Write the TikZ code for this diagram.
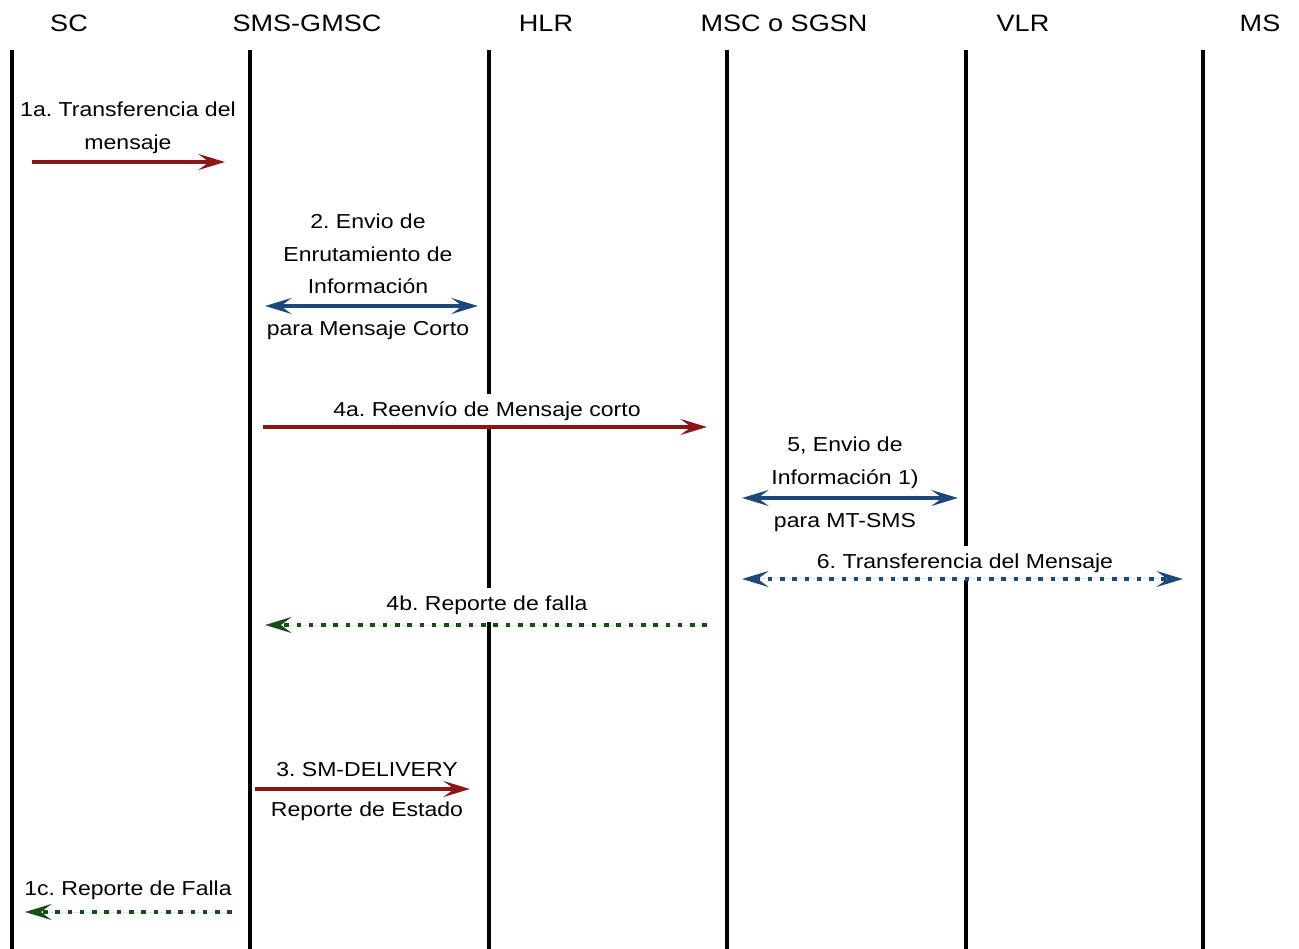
\documentclass[tikz,border=0pt]{standalone}
\usepackage{fontspec}
\setmainfont{Liberation Sans}[FakeStretch=1.14]
\frenchspacing
\usetikzlibrary{arrows.meta}
\definecolor{msgred}{RGB}{140,22,22}
\definecolor{msgblue}{RGB}{28,72,122}
\definecolor{msggreen}{RGB}{22,78,22}
\tikzset{
  head/.style={font=\fontsize{13.5}{16}\selectfont,inner sep=0pt},
  lifeline/.style={line width=2.8pt,draw=black},
  lbl/.style={
    fill=white,align=center,inner xsep=1pt,inner ysep=4.5pt,
    font=\fontsize{11.5}{18.6}\selectfont
  },
  msg/.style={line width=2.3pt,-{Stealth[length=15pt,width=9pt,inset=6pt]}},
  twoway/.style={msg,{Stealth[length=15pt,width=9pt,inset=6pt]}-{Stealth[length=15pt,width=9pt,inset=6pt]}},
  dots/.style={dash pattern=on 2.6pt off 4.4pt},
  fwd/.style={msg,draw=msgred,fill=msgred},
  both/.style={twoway,draw=msgblue,fill=msgblue},
  bothdots/.style={both,dots},
  fail/.style={msg,dots,draw=msggreen,fill=msggreen}
}
\begin{document}
\begin{tikzpicture}[x=0.02cm,y=-0.02cm]
    \useasboundingbox (0,0) rectangle (1299,949);

    % lifelines and their names
    \foreach \x/\n/\t in {12/sc/SC,250/gmsc/SMS-GMSC,489/hlr/HLR,
        727/msc/MSC o SGSN,966/vlr/VLR,1203/ms/MS}{
      \node[head] (\n) at (\x+57,23) {\t};
      \coordinate (\n-top) at (\x,50);
      \coordinate (\n-bot) at (\x,949);
      \draw[lifeline] (\n-top) -- (\n-bot);
    }

    % message labels
    \node[lbl] (l1a) at (128,128) {1a. Transferencia del\\mensaje};
    \node[lbl] (l2up) at (368,254) {2. Envio de\\Enrutamiento de\\Información};
    \node[lbl] (l2down) at (368,330) {para Mensaje Corto};
    \node[lbl] (l4a) at (487,411) {4a. Reenvío de Mensaje corto};
    \node[lbl] (l5up) at (845,463) {5, Envio de\\Información 1)};
    \node[lbl] (l5down) at (845,523) {para MT-SMS};
    \node[lbl] (l6) at (965,563) {6. Transferencia del Mensaje};
    \node[lbl] (l4b) at (487,605) {4b. Reporte de falla};
    \node[lbl] (l3up) at (367,770) {3. SM-DELIVERY};
    \node[lbl] (l3down) at (367,811) {Reporte de Estado};
    \node[lbl] (l1c) at (128,890) {1c. Reporte de Falla};

    % message end points
    \coordinate (m1a-a) at (32,162);  \coordinate (m1a-b) at (225,162);
    \coordinate (m2-a) at (265,306);  \coordinate (m2-b) at (478,306);
    \coordinate (m4a-a) at (263,427); \coordinate (m4a-b) at (707,427);
    \coordinate (m5-a) at (742,498);  \coordinate (m5-b) at (958,498);
    \coordinate (m6-a) at (742,579);  \coordinate (m6-b) at (1183,579);
    \coordinate (m4b-a) at (707,625); \coordinate (m4b-b) at (265,625);
    \coordinate (m3-a) at (255,789);  \coordinate (m3-b) at (470,789);
    \coordinate (m1c-a) at (232,912); \coordinate (m1c-b) at (25,912);

    \draw[fwd] (m1a-a) -- (m1a-b);
    \draw[both] (m2-a) -- (m2-b);
    \draw[fwd] (m4a-a) -- (m4a-b);
    \draw[both] (m5-a) -- (m5-b);
    \draw[bothdots] (m6-a) -- (m6-b);
    \draw[fail] (m4b-a) -- (m4b-b);
    \draw[fwd] (m3-a) -- (m3-b);
    \draw[fail] (m1c-a) -- (m1c-b);
\end{tikzpicture}
\end{document}
